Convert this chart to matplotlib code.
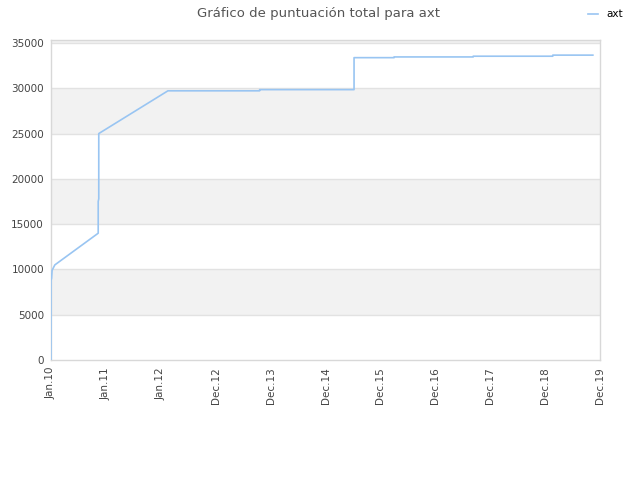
import matplotlib
matplotlib.use("Agg")
import matplotlib.pyplot as plt

# data (x in tick units: 0 = Jan.10 ... 10 = Dec.19)
tick_labels = ["Jan.10", "Jan.11", "Jan.12", "Dec.12", "Dec.13", "Dec.14",
               "Dec.15", "Dec.16", "Dec.17", "Dec.18", "Dec.19"]
x_pos = [0, 0, 0.01, 0.02, 0.07, 0.86, 0.86, 0.87, 0.87, 2.13, 3.80, 3.80,
         5.52, 5.52, 6.25, 6.25, 7.69, 7.69, 9.14, 9.14, 9.87]
score = [0, 8800, 9000, 9900, 10500, 14000, 17500, 17800, 25000, 29720, 29720,
         29850, 29850, 33380, 33380, 33460, 33460, 33540, 33540, 33660, 33660]
y_ticks = [0, 5000, 10000, 15000, 20000, 25000, 30000, 35000]

LINE = "#99c5f2"
GRID = "#e2e2e2"
BAND = "#f2f2f2"
TXT = "#444444"

plt.rcParams.update({"font.family": "DejaVu Sans"})

fig = plt.figure(figsize=(6.4, 4.8), dpi=100)
ax = fig.add_axes([51 / 640, 120 / 480, 549 / 640, 320 / 480])

ymax = 35330
# alternating bands
for i, lo in enumerate(y_ticks):
    hi = min(lo + 5000, ymax)
    if i % 2 == 1:
        ax.axhspan(lo, hi, color=BAND, lw=0, zorder=0)
for t in y_ticks[1:]:
    ax.axhline(t, color=GRID, lw=1, zorder=1)

ax.plot(x_pos, score, color=LINE, lw=1.2, label="axt", zorder=3)

ax.set_xlim(0, 10)
ax.set_ylim(0, ymax)
ax.set_xticks(range(len(tick_labels)))
ax.set_xticklabels(tick_labels, rotation=90, fontsize=7.5, color=TXT)
ax.set_yticks(y_ticks)
ax.set_yticklabels([str(t) for t in y_ticks], fontsize=7.5, color=TXT)
ax.tick_params(length=0, pad=5)
for s in ax.spines.values():
    s.set_color("#d8d8d8")
    s.set_linewidth(1)

fig.suptitle("Gráfico de puntuación total para axt", x=0.497, y=0.985,
             fontsize=9.5, color="#555555")
fig.legend(loc="upper right", bbox_to_anchor=(0.988, 1.0), frameon=False,
           fontsize=7.5, handlelength=1.0, handletextpad=0.8)

fig.savefig("out.png", dpi=100)
